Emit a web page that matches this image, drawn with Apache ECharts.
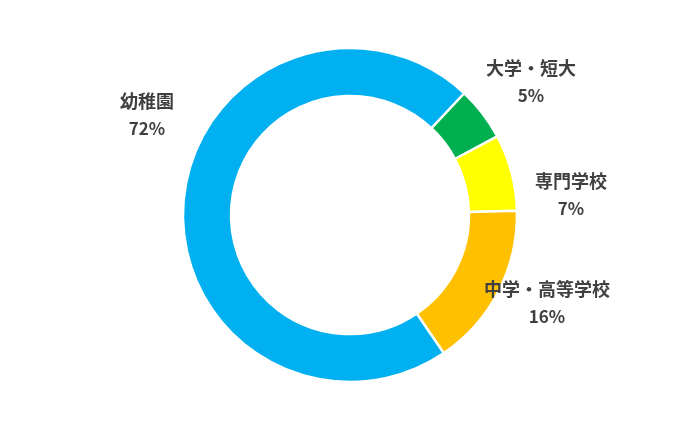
<!DOCTYPE html>
<html>
<head>
<meta charset="utf-8">
<script src="https://cdn.jsdelivr.net/npm/echarts@6/dist/echarts.min.js"></script>
<style>
  html, body { margin: 0; padding: 0; background: #fff; }
  #chart { width: 699px; height: 429px; }
</style>
</head>
<body>
<div id="chart"></div>
<script>
const categories = ["幼稚園", "大学・短大", "専門学校", "中学・高等学校"];
const shares = [71.5, 5.2, 7.4, 15.9];
const colors = ["#00B0F0", "#00B050", "#FFFF00", "#FFC000"];
// label anchor points (center of the two-line label)
const labelPos = [[147, 115], [531, 82], [571, 195], [547, 303]];

const chart = echarts.init(document.getElementById("chart"));
chart.setOption({
  backgroundColor: "#fff",
  animation: false,
  series: [{
    type: "pie",
    center: [350, 215],
    radius: [119, 167],
    startAngle: -55.8,
    clockwise: true,
    percentPrecision: 0,
    itemStyle: { borderColor: "#fff", borderWidth: 2.5 },
    label: {
      show: true,
      position: "outside",
      formatter: "{n|{b}}\n{p|{d}%}",
      color: "#404040",
      fontFamily: "Noto Sans CJK JP",
      fontWeight: "bold",
      align: "center",
      rich: {
        n: { fontSize: 18, lineHeight: 28, fontWeight: "bold", color: "#404040", fontFamily: "Noto Sans CJK JP" },
        p: { fontSize: 17, lineHeight: 28, fontWeight: "bold", color: "#404040", fontFamily: "Noto Sans CJK JP" }
      }
    },
    labelLine: { show: false },
    labelLayout: (p) => ({
      x: labelPos[p.dataIndex][0],
      y: labelPos[p.dataIndex][1],
      align: "center",
      verticalAlign: "middle"
    }),
    emphasis: { disabled: true },
    data: categories.map((c, i) => ({ name: c, value: shares[i], itemStyle: { color: colors[i] } }))
  }]
});
</script>
</body>
</html>
